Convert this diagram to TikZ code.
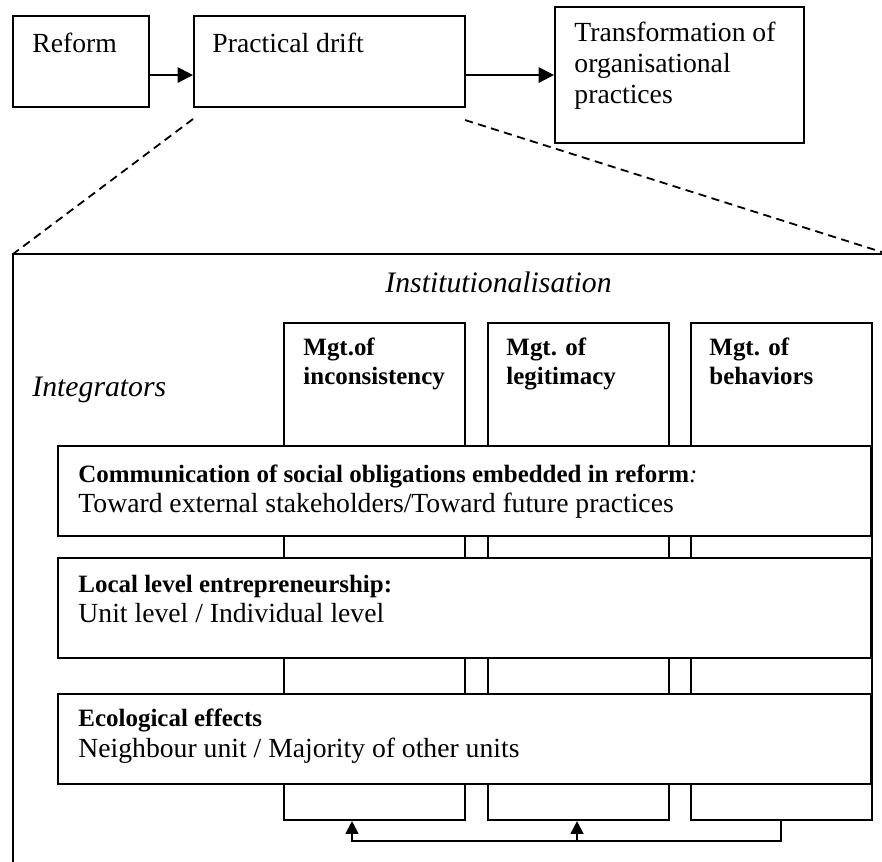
\documentclass[tikz,border=0pt]{standalone}
\usepackage{fontspec}
\setmainfont{Liberation Serif}
\usetikzlibrary{arrows.meta,calc}
\def\u{0.441pt}
\tikzset{
  box/.style 2 args={draw, line width=0.9pt, inner sep=0pt, fill=white,
    minimum width=#1*\u, minimum height=#2*\u, anchor=north west},
  plain/.style={anchor=base west, inner sep=0pt, font=\fontsize{12.2}{14}\selectfont},
  head/.style={anchor=base west, inner sep=0pt, font=\fontsize{11}{13}\selectfont\bfseries},
  ital/.style={anchor=base west, inner sep=0pt, font=\fontsize{13.1}{15}\selectfont\itshape},
  link/.style={line width=0.9pt, -{Triangle[length=6.8pt,width=6.8pt]}},
  uplink/.style={line width=0.9pt, -{Triangle[length=5.6pt,width=5.6pt]}},
  conn/.style={line width=0.9pt},
  zoomline/.style={line width=0.8pt, dash pattern=on 3.6pt off 2.4pt},
}
\begin{document}
\begin{tikzpicture}[x=\u, y=-\u]
\useasboundingbox (0,0) rectangle (882,861);
\clip (0,0) rectangle (882,861);

% top chain
\node[box={136}{91}] (reform) at (12,15) {};
\node[box={271}{91}] (pd) at (193,15) {};
\node[box={249}{136}] (tr) at (554,6) {};
\node[plain] (treform) at (32,52) {Reform};
\node[plain] (tpd) at (212,52) {Practical drift};
\node[plain] (ttr1) at (574,41) {Transformation of};
\node[plain] (ttr2) at (574,72) {organisational};
\node[plain] (ttr3) at (574,103) {practices};
\draw[link] (reform.east |- tr.west) -- (pd.west |- tr.west);
\draw[link] (pd.east |- tr.west) -- (tr.west);

% enlarged view of the practical drift
\coordinate (fl) at (13,254);
\coordinate (fr) at (888,254);
\coordinate (fb) at (13,900);
\draw[conn] (fb) -- (fl) -- (fr) -- ++(0,700);
\draw[zoomline] ($(pd.south west)+(0,11)$) -- (fl);
\draw[zoomline] ($(pd.south east)+(-1,12)$) -- (fr);

\node[ital] (tinst) at (385,292) {Institutionalisation};
\node[ital] (tint) at (32,396) {Integrators};

% institutionalisation columns
\node[box={181}{497}] (c1) at (283,322) {};
\node[box={181}{497}] (c2) at (487,322) {};
\node[box={181}{497}] (c3) at (690,322) {};
\node[head] (tc1a) at (303,355) {Mgt.of};
\node[head] (tc1b) at (303,384) {inconsistency};
\node[head] (tc2a) at (506,355) {Mgt. of};
\node[head] (tc2b) at (506,384) {legitimacy};
\node[head] (tc3a) at (709,355) {Mgt. of};
\node[head] (tc3b) at (709,384) {behaviors};

% integrator bands laid over the columns
\node[box={813}{90}] (comm) at (57,445) {};
\node[box={813}{100}] (local) at (57,557) {};
\node[box={813}{90}] (eco) at (57,693) {};
\node[head] (tcomm1) at (78,482) {Communication of social obligations embedded in reform\textmd{\itshape :}};
\node[plain] (tcomm2) at (78,512) {Toward external stakeholders/Toward future practices};
\node[head] (tloc1) at (78,592) {Local level entrepreneurship:};
\node[plain] (tloc2) at (78,622) {Unit level / Individual level};
\node[head] (teco1) at (78,726) {Ecological effects};
\node[plain] (teco2) at (78,757) {Neighbour unit / Majority of other units};

% feedback from behaviors to the other two columns
\coordinate (x1) at (352,0);
\coordinate (x2) at (577,0);
\coordinate (x3) at (781,0);
\coordinate (yb) at (0,841);
\draw[uplink] (c3.south -| x3) -- (x3 |- yb) -- (x1 |- yb) -- (c1.south -| x1);
\draw[uplink] (x2 |- yb) -- (c2.south -| x2);
\end{tikzpicture}
\end{document}
